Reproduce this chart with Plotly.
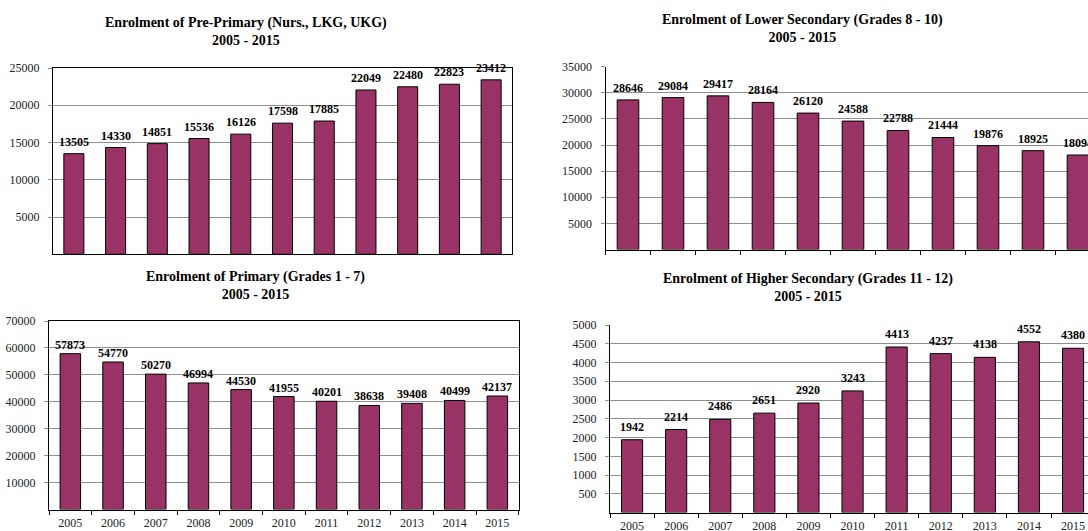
import plotly.graph_objects as go

W, H = 1088, 531

years = [str(y) for y in range(2005, 2016)]
pre_primary = [13505, 14330, 14851, 15536, 16126, 17598, 17885, 22049, 22480, 22823, 23412]
lower_secondary = [28646, 29084, 29417, 28164, 26120, 24588, 22788, 21444, 19876, 18925, 18094]
primary = [57873, 54770, 50270, 46994, 44530, 41955, 40201, 38638, 39408, 40499, 42137]
higher_secondary = [1942, 2214, 2486, 2651, 2920, 3243, 4413, 4237, 4138, 4552, 4380]

titles = [
    "Enrolment of Pre-Primary (Nurs., LKG, UKG)",
    "Enrolment of Lower Secondary (Grades 8 - 10)",
    "Enrolment of Primary (Grades 1 - 7)",
    "Enrolment of Higher Secondary (Grades 11 - 12)",
]
subtitle = "2005 - 2015"

ticks_pre = [5000, 10000, 15000, 20000, 25000]
ticks_lower = [5000, 10000, 15000, 20000, 25000, 30000, 35000]
ticks_primary = [10000, 20000, 30000, 40000, 50000, 60000, 70000]
ticks_higher = [500, 1000, 1500, 2000, 2500, 3000, 3500, 4000, 4500, 5000]

FONT = "Liberation Serif"
BAR = "#993366"
GRID = "#8f8f8f"


def px_x(p):
    return p / W


def px_y(p):
    return 1 - p / H


fig = go.Figure()
annotations = []

series = [
    (pre_primary, "x", "y", 3),
    (lower_secondary, "x2", "y2", 3),
    (primary, "x3", "y3", 0),
    (higher_secondary, "x4", "y4", 4),
]
for vals, xa, ya, shift in series:
    fig.add_trace(go.Bar(
        x=years, y=vals, xaxis=xa, yaxis=ya,
        marker=dict(color=BAR, line=dict(color="black", width=1)),
        showlegend=False, hoverinfo="x+y",
    ))
    for i, v in enumerate(vals):
        annotations.append(dict(
            x=i, y=v, xref=xa, yref=ya, text=f"<b>{v}</b>",
            showarrow=False, xanchor="center", yanchor="bottom", yshift=shift,
            font=dict(family=FONT, size=12, color="black"),
        ))

tickfont = dict(family=FONT, size=12, color="#222")


def yax(domain, rng, tv, mirror):
    return dict(
        domain=domain, range=rng, tickvals=tv, ticktext=[str(v) for v in tv],
        showgrid=True, gridcolor=GRID, gridwidth=1, zeroline=False,
        showline=True, linecolor="black", linewidth=1, mirror=mirror,
        ticks="outside", ticklen=4, tickcolor=GRID, tickfont=tickfont,
        ticklabelstandoff=6, fixedrange=True, automargin=False,
    )


def xax(domain, rng, anchor, labels, ticks, mirror, standoff=2):
    return dict(
        domain=domain, range=rng, anchor=anchor, type="category",
        showgrid=False, zeroline=False, showline=True, linecolor="black",
        linewidth=1, mirror=mirror, showticklabels=labels,
        ticks="outside" if ticks else "", tickson="boundaries", ticklen=4,
        tickcolor="black", tickfont=tickfont, ticklabelstandoff=standoff,
        fixedrange=True, automargin=False,
    )


layout = dict(
    template="none",
    width=W, height=H, margin=dict(l=0, r=0, t=0, b=0, pad=0),
    paper_bgcolor="white", plot_bgcolor="white", bargap=0.52,
    showlegend=False,
    font=dict(family=FONT),
    xaxis=xax([px_x(53), px_x(512)], [-0.5, 10.5], "y", False, False, True),
    yaxis=yax([px_y(254.3), px_y(68)], [0, 25000], ticks_pre, True),
    xaxis2=xax([px_x(605.5), 1.0], [-0.5, -0.5 + (W - 605.5) / 45.0], "y2", False, True, False),
    yaxis2=yax([px_y(249.5), px_y(66.7)], [0, 35000], ticks_lower, False),
    xaxis3=xax([px_x(49), px_x(518.7)], [-0.5, 10.5], "y3", True, True, True, 2),
    yaxis3=yax([px_y(509.5), px_y(321)], [0, 70000], ticks_primary, True),
    xaxis4=xax([px_x(610), 1.0], [-0.5, -0.5 + (W - 610) / 44.1], "y4", True, True, False, 2),
    yaxis4=yax([px_y(512.6), px_y(325)], [0, 5000], ticks_higher, False),
)
layout["yaxis"]["anchor"] = "x"
layout["yaxis2"]["anchor"] = "x2"
layout["yaxis3"]["anchor"] = "x3"
layout["yaxis4"]["anchor"] = "x4"

title_pos = [(246, 32), (802, 28.5), (255, 285), (808, 287)]
for t, (cx, cy) in zip(titles, title_pos):
    annotations.append(dict(
        text=f"<b>{t}<br>{subtitle}</b>", x=px_x(cx), y=px_y(cy),
        xref="paper", yref="paper", xanchor="center", yanchor="middle",
        showarrow=False, align="center",
        font=dict(family=FONT, size=14, color="black"),
    ))
layout["annotations"] = annotations

fig.update_layout(**layout)
fig.write_html("out.html", config={"displayModeBar": False})
